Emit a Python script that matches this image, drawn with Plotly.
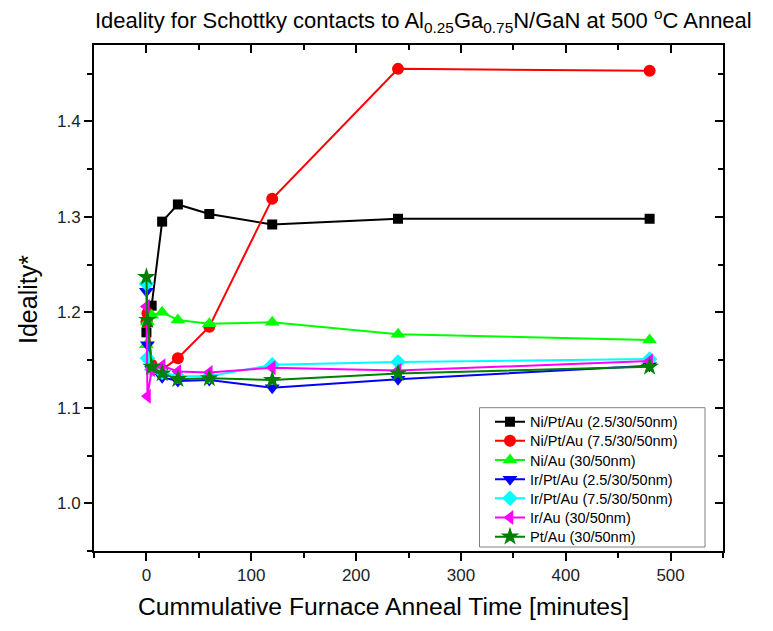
import plotly.graph_objects as go

# ---- data ----
times = [0, 1, 5, 15, 30, 60, 120, 240, 480]

names = [
    "Ni/Pt/Au (2.5/30/50nm)",
    "Ni/Pt/Au (7.5/30/50nm)",
    "Ni/Au (30/50nm)",
    "Ir/Pt/Au (2.5/30/50nm)",
    "Ir/Pt/Au (7.5/30/50nm)",
    "Ir/Au (30/50nm)",
    "Pt/Au (30/50nm)",
]

ni_pt_au_25 = [1.179, 1.190, 1.207, 1.295, 1.313, 1.303, 1.292, 1.298, 1.298]
ni_pt_au_75 = [1.190, 1.199, 1.145, 1.140, 1.152, 1.185, 1.319, 1.455, 1.453]
ni_au = [1.166, 1.190, 1.197, 1.200, 1.192, 1.188, 1.1895, 1.177, 1.171]
ir_pt_au_25 = [1.222, 1.166, 1.140, 1.132, 1.128, 1.129, 1.121, 1.130, 1.144]
ir_pt_au_75 = [1.230, 1.152, 1.140, 1.137, 1.133, 1.133, 1.145, 1.148, 1.151]
ir_au = [1.206, 1.112, 1.140, 1.144, 1.138, 1.137, 1.142, 1.139, 1.149]
pt_au = [1.237, 1.192, 1.143, 1.136, 1.130, 1.131, 1.129, 1.136, 1.143]

series = [ni_pt_au_25, ni_pt_au_75, ni_au, ir_pt_au_25, ir_pt_au_75, ir_au, pt_au]

x_ticks = [0, 100, 200, 300, 400, 500]
y_ticks = [1.0, 1.1, 1.2, 1.3, 1.4]
y_tick_text = ["1.0", "1.1", "1.2", "1.3", "1.4"]

# ---- styles ----
colors = ["#000000", "#FF0000", "#00FF00", "#0000FF", "#00FFFF", "#FF00FF", "#008000"]
symbols = ["square", "circle", "triangle-up", "triangle-down", "diamond", "triangle-left", "star"]
sizes = [10, 12, 13, 13, 12, 13, 14]

FONT = "Arial, Liberation Sans, sans-serif"

# plot-area geometry (pixels)
W, H = 773, 631
L, R, T, B = 94, 50, 45, 80
PW, PH = W - L - R, H - T - B


def px(xp):
    return (xp - L) / PW


def py(yp):
    return (H - B - yp) / PH


legend_keys = ["legend"] + [f"legend{i}" for i in range(2, len(names) + 1)]
row_y = [421.7 + 19.17 * i for i in range(len(names))]

fig = go.Figure()
for name, ys, c, s, sz, lk in zip(names, series, colors, symbols, sizes, legend_keys):
    fig.add_trace(go.Scatter(
        x=times, y=ys, name=name, mode="lines+markers", legend=lk,
        line=dict(color=c, width=2),
        marker=dict(color=c, symbol=s, size=sz, line=dict(width=0)),
    ))

# helper trace for the mirrored (top/right) axes with inward ticks
fig.add_trace(go.Scatter(x=[None], y=[None], xaxis="x2", yaxis="y2",
                         showlegend=False, hoverinfo="skip"))

XR = [-50, 550]
YR = [0.95, 1.48]

legends = {}
for lk, ry in zip(legend_keys, row_y):
    legends[lk] = dict(
        x=px(490), y=py(ry), xanchor="left", yanchor="middle",
        bgcolor="rgba(0,0,0,0)", borderwidth=0,
        font=dict(size=14.5, family=FONT, color="black"),
    )

fig.update_layout(
    width=W, height=H,
    margin=dict(l=L, r=R, t=T, b=B),
    paper_bgcolor="white", plot_bgcolor="white",
    font=dict(family=FONT, color="black"),
    showlegend=True,
    xaxis=dict(
        range=XR, tickvals=x_ticks, ticks="outside", ticklen=8, tickwidth=2,
        tickcolor="black", showline=True, linewidth=2, linecolor="black",
        showgrid=False, zeroline=False,
        tickfont=dict(size=17, family=FONT, color="#222222"),
        minor=dict(dtick=50, ticks="outside", ticklen=5, tickwidth=2, tickcolor="black", showgrid=False),
    ),
    yaxis=dict(
        range=YR, tickvals=y_ticks, ticktext=y_tick_text, ticks="outside", ticklen=8,
        tickwidth=2, tickcolor="black", showline=True, linewidth=2, linecolor="black",
        showgrid=False, zeroline=False,
        tickfont=dict(size=17, family=FONT, color="#222222"),
        minor=dict(dtick=0.05, tick0=1.0, ticks="outside", ticklen=5, tickwidth=2, tickcolor="black", showgrid=False),
    ),
    xaxis2=dict(
        range=XR, overlaying="x", side="top", anchor="y2", tickvals=x_ticks,
        ticks="inside", ticklen=8, tickwidth=2, tickcolor="black",
        showline=True, linewidth=2, linecolor="black", showticklabels=False,
        showgrid=False, zeroline=False,
        minor=dict(dtick=50, ticks="inside", ticklen=5, tickwidth=2, tickcolor="black", showgrid=False),
    ),
    yaxis2=dict(
        range=YR, overlaying="y", side="right", anchor="x2", tickvals=y_ticks,
        ticks="inside", ticklen=8, tickwidth=2, tickcolor="black",
        showline=True, linewidth=2, linecolor="black", showticklabels=False,
        showgrid=False, zeroline=False,
        minor=dict(dtick=0.05, tick0=1.0, ticks="inside", ticklen=5, tickwidth=2, tickcolor="black", showgrid=False),
    ),
    shapes=[dict(type="rect", xref="paper", yref="paper", layer="above",
                 x0=px(479.5), x1=px(705), y0=py(547), y1=py(407.7),
                 fillcolor="white", line=dict(color="#808080", width=1))],
    annotations=[
        dict(text="Ideality for Schottky contacts to Al<sub>0.25</sub>Ga<sub>0.75</sub>N/GaN at 500 <sup>o</sup>C Anneal",
             xref="paper", yref="paper", x=px(423.5), y=py(20), xanchor="center", yanchor="middle",
             showarrow=False, font=dict(size=22, family=FONT, color="black")),
        dict(text="Cummulative Furnace Anneal Time [minutes]",
             xref="paper", yref="paper", x=px(383), y=py(606), xanchor="center", yanchor="middle",
             showarrow=False, font=dict(size=24.7, family=FONT, color="black")),
        dict(text="Ideality*", textangle=-90,
             xref="paper", yref="paper", x=px(28), y=py(300), xanchor="center", yanchor="middle",
             showarrow=False, font=dict(size=25, family=FONT, color="black")),
    ],
    **legends,
)

fig.write_html("out.html")
